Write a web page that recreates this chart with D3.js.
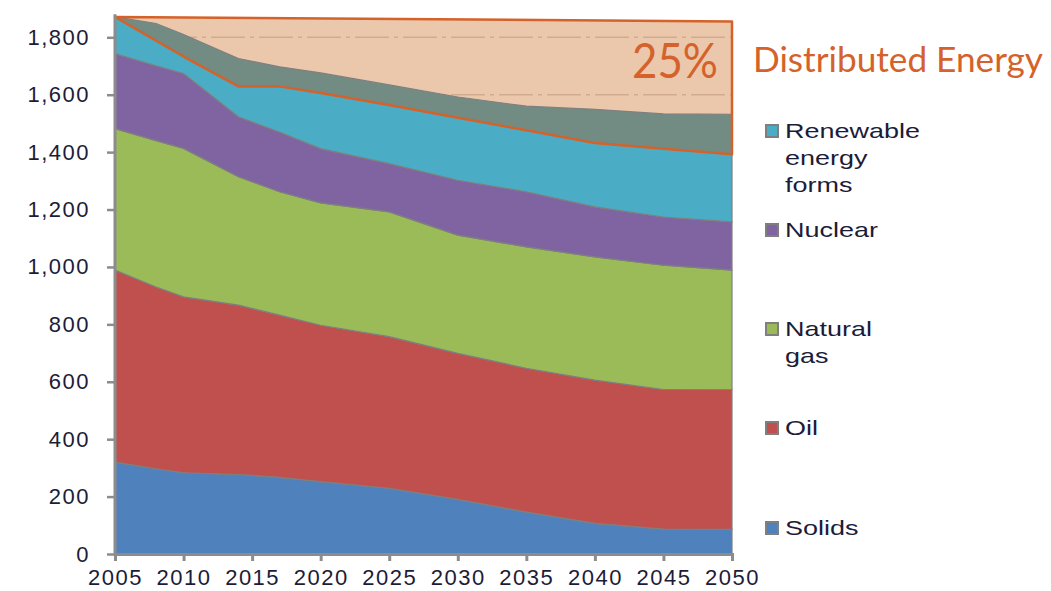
<!DOCTYPE html>
<html>
<head>
<meta charset="utf-8">
<script src="https://cdn.jsdelivr.net/npm/d3@7"></script>
<style>
  body { margin: 0; background: #fff; }
  text { font-family: "Liberation Sans", Arial, sans-serif; }
</style>
</head>
<body>
<svg id="chart" width="1051" height="591"></svg>
<script>
// values (Mtoe), stacked bottom to top
var years     = [2005, 2008, 2010, 2014, 2017, 2020, 2025, 2030, 2035, 2040, 2045, 2050];
var solids    = [320, 297, 283, 277, 267, 252, 229, 190, 146, 107, 87, 86];
var oil       = [669, 633, 613, 590, 565, 545, 528, 509, 501, 499, 486, 488];
var gas       = [493, 510, 517, 447, 430, 426, 435, 412, 423, 429, 433, 415];
var nuclear   = [261, 261, 261, 209, 208, 189, 168, 191, 192, 174, 168, 168];
var renewable = [128, 87, 59, 106, 159, 194, 204, 218, 214, 223, 238, 236];
var other     = [0, 60, 77, 97, 68, 70, 70, 72, 84, 117, 121, 139];

// top edge of the "distributed energy" box
var boxYears = [2005, 2050];
var boxTop   = [1871, 1855];

var yTicks = [0, 200, 400, 600, 800, 1000, 1200, 1400, 1600, 1800];
var xTicks = [2005, 2010, 2015, 2020, 2025, 2030, 2035, 2040, 2045, 2050];

var keys   = ['solids', 'oil', 'gas', 'nuclear', 'renewable', 'other'];
var colors = ['#4f81bd', '#c0504d', '#9bbb59', '#8064a2', '#4bacc6', '#738c83'];

var legendItems = [
  {lines: ['Renewable', 'energy', 'forms'], color: '#4bacc6', y: 131},
  {lines: ['Nuclear'], color: '#8064a2', y: 230},
  {lines: ['Natural', 'gas'], color: '#9bbb59', y: 329},
  {lines: ['Oil'], color: '#c0504d', y: 428},
  {lines: ['Solids'], color: '#4f81bd', y: 528}
];

var rows = years.map(function (yr, i) {
  return {year: yr, solids: solids[i], oil: oil[i], gas: gas[i],
          nuclear: nuclear[i], renewable: renewable[i], other: other[i]};
});

var svg = d3.select('#chart');

var x = d3.scaleLinear().domain([2005, 2050]).range([115, 732]);
var y = d3.scaleLinear().domain([0, 1800]).range([554, 37.3]);

var stacked = d3.stack().keys(keys)(rows);

// top of the renewable layer, used by the orange outline
var renewTop = stacked[4].map(function (d) { return [d.data.year, d[1]]; });
var boxPts = boxYears.map(function (yr, i) { return [yr, boxTop[i]]; })
  .concat(renewTop.slice().reverse());

var line = d3.line()
  .x(function (d) { return x(d[0]); })
  .y(function (d) { return y(d[1]); });

// peach box behind everything
svg.append('path')
  .attr('d', line(boxPts) + 'Z')
  .attr('fill', '#ebc7ab');

// gridlines
svg.append('g').selectAll('line')
  .data(yTicks.slice(1))
  .enter().append('line')
  .attr('x1', x(2005)).attr('x2', x(2050))
  .attr('y1', function (d) { return y(d); })
  .attr('y2', function (d) { return y(d); })
  .attr('stroke', '#d2ab8f')
  .attr('stroke-width', 1.5)
  .attr('stroke-dasharray', '34,5,4,5');

var area = d3.area()
  .x(function (d) { return x(d.data.year); })
  .y0(function (d) { return y(d[0]); })
  .y1(function (d) { return y(d[1]); });

svg.append('g').selectAll('path')
  .data(stacked)
  .enter().append('path')
  .attr('d', area)
  .attr('fill', function (d, i) { return colors[i]; })
  .attr('stroke', '#7f7f7f')
  .attr('stroke-width', 1.2);

// orange outline of the box
svg.append('path')
  .attr('d', line(boxPts) + 'Z')
  .attr('fill', 'none')
  .attr('stroke', '#d4622a')
  .attr('stroke-width', 2.5)
  .attr('stroke-linejoin', 'round');

// axes
var yAxis = d3.axisLeft(y)
  .tickValues(yTicks)
  .tickSize(8)
  .tickPadding(17)
  .tickFormat(d3.format(','));

var yg = svg.append('g')
  .attr('transform', 'translate(' + x(2005) + ',0)')
  .call(yAxis);
yg.select('.domain').remove();
yg.selectAll('.tick line').attr('stroke', '#8c8c8c').attr('stroke-width', 2.5);
yg.selectAll('.tick text')
  .attr('fill', '#1c1c38')
  .style('font-size', '22px')
  .style('letter-spacing', '1.5px');

svg.append('line')
  .attr('x1', x(2005)).attr('x2', x(2005))
  .attr('y1', y(0) + 1.5).attr('y2', y(1880))
  .attr('stroke', '#8c8c8c')
  .attr('stroke-width', 3);

var xAxis = d3.axisBottom(x)
  .tickValues(xTicks)
  .tickSize(7)
  .tickPadding(8)
  .tickFormat(d3.format('d'));

var xg = svg.append('g')
  .attr('transform', 'translate(0,' + y(0) + ')')
  .call(xAxis);
xg.select('.domain').attr('stroke', '#8c8c8c').attr('stroke-width', 3);
xg.selectAll('.tick line').attr('stroke', '#8c8c8c').attr('stroke-width', 3);
xg.selectAll('.tick text')
  .attr('fill', '#1c1c38')
  .style('font-size', '22px')
  .style('letter-spacing', '1.5px');

// annotation
svg.append('text')
  .attr('x', 632).attr('y', 78)
  .attr('textLength', 86)
  .attr('lengthAdjust', 'spacingAndGlyphs')
  .style('font-family', 'Lato, "Open Sans", sans-serif')
  .style('font-size', '48px')
  .attr('fill', '#d4622a')
  .text('25%');

svg.append('text')
  .attr('x', 753).attr('y', 72)
  .attr('textLength', 290)
  .attr('lengthAdjust', 'spacingAndGlyphs')
  .style('font-family', 'Lato, "Open Sans", sans-serif')
  .style('font-size', '35px')
  .attr('fill', '#d4622a')
  .text('Distributed Energy');

// legend
var lg = svg.append('g').selectAll('g')
  .data(legendItems)
  .enter().append('g')
  .attr('transform', function (d) { return 'translate(765,' + d.y + ')'; });

lg.append('rect')
  .attr('x', 1).attr('y', -6)
  .attr('width', 12).attr('height', 12)
  .attr('fill', function (d) { return d.color; })
  .attr('stroke', '#7f7f7f')
  .attr('stroke-width', 2);

lg.each(function (d) {
  var g = d3.select(this);
  d.lines.forEach(function (t, k) {
    g.append('text')
      .attr('transform', 'translate(20,' + (7 + k * 27) + ') scale(1.35,1)')
      .attr('fill', '#1c1c38')
      .style('font-size', '20px')
      .text(t);
  });
});
</script>
</body>
</html>
